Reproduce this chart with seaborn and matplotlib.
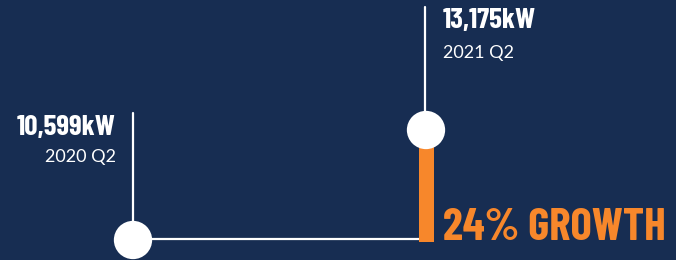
import matplotlib
matplotlib.use("Agg")
import matplotlib.pyplot as plt
import seaborn as sns
import pandas as pd

# ---- data ----
periods = ["2020 Q2", "2021 Q2"]
capacity_kw = [10599, 13175]
growth_label = "24% GROWTH"

BG = "#172d52"
ORANGE = "#f7872b"
W, H = 676, 260

df = pd.DataFrame({"pos": range(len(periods)), "kw": capacity_kw, "period": periods})

sns.set_theme(style="white")
fig = plt.figure(figsize=(W / 100, H / 100), dpi=100, facecolor=BG)
ax = fig.add_axes([0, 0, 1, 1], facecolor=BG)

# scales: x 0 -> px 133, x 1 -> px 426 ; kw 10599 -> py 240, 13175 -> py 130
px_per_x = 426 - 133
ax.set_xlim(-133 / px_per_x, (W - 133) / px_per_x)
kw_per_px = (capacity_kw[1] - capacity_kw[0]) / (240 - 130)
ax.set_ylim(capacity_kw[0] - (H - 240) * kw_per_px, capacity_kw[1] + 130 * kw_per_px)
ax.set_axis_off()

x0, x1 = df["pos"]
y0, y1 = df["kw"]

# baseline from first point to the bar
ax.plot([x0, x1 - 7 / px_per_x], [y0 + kw_per_px, y0 + kw_per_px], color="white", lw=1.6,
        solid_capstyle="butt", zorder=1)
# orange growth bar
ax.bar(x1, y1 - (y0 - 2 * kw_per_px), bottom=y0 - 2 * kw_per_px, width=15 / px_per_x,
       color=ORANGE, edgecolor="none", linewidth=0, zorder=2)
# vertical leader lines
ax.plot([x0, x0], [y0, y0 + (240 - 113) * kw_per_px], color="white", lw=1.6, zorder=1)
ax.plot([x1 - 1 / px_per_x] * 2, [y1, y1 + (130 - 7) * kw_per_px], color="white", lw=1.6, zorder=1)

sns.scatterplot(data=df, x="pos", y="kw", s=760, color="white", edgecolor="none",
                ax=ax, zorder=3, legend=False)

bold_font = ["Barlow Condensed", "DejaVu Sans"]
lab_font = ["Lato", "DejaVu Sans"]

def ftxt(px, py, s, **kw):
    fig.text(px / W, 1 - py / H, s, va="baseline", **kw)

ftxt(116, 135, f"{capacity_kw[0]:,}kW", ha="right", color="white", fontsize=21,
     fontweight=700, family=bold_font)
ftxt(116, 162, periods[0], ha="right", color="white", fontsize=13, fontweight="normal",
     family=lab_font)
ftxt(443, 28, f"{capacity_kw[1]:,}kW", ha="left", color="white", fontsize=21,
     fontweight=700, family=bold_font)
ftxt(443, 58, periods[1], ha="left", color="white", fontsize=13, fontweight="normal",
     family=lab_font)
ftxt(443, 240, growth_label, ha="left", color=ORANGE, fontsize=32.5,
     fontweight=700, family=bold_font)

fig.savefig("out.png", dpi=100, facecolor=BG)
